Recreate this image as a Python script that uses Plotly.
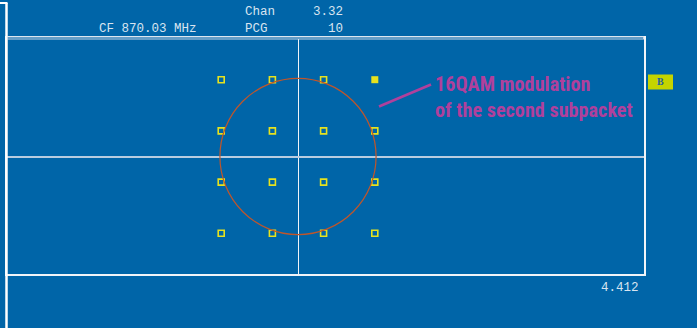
import plotly.graph_objects as go

# ---- data ----
i_open = [-3, -1, 1, -3, -1, 1, 3, -3, -1, 1, 3, -3, -1, 1, 3]
q_open = [3, 3, 3, 1, 1, 1, 1, -1, -1, -1, -1, -3, -3, -3, -3]
i_filled = [3]
q_filled = [3]
circle_radius = 3.05
header_labels = ["Chan", "PCG"]
header_values = ["3.32", "10"]
cf_label = "CF 870.03 MHz"
footer_value = "4.412"
note_text = "16QAM modulation<br>of the second subpacket"
marker_label = "B"

W, H = 697, 328
L, R, T, B = 7, 53, 38, 54
pw, ph = W - L - R, H - T - B

def px(x):
    return (x - L) / pw

def py(y):
    return (H - B - y) / ph

BG = "#0065A8"
TXT = "#D8E4F0"
YEL = "#E6E21E"
MAG = "#B0409C"

fig = go.Figure()
fig.add_trace(go.Scatter(x=i_open, y=q_open, mode="markers",
                         marker=dict(symbol="square-open", size=6, color=YEL,
                                     line=dict(width=1.6, color=YEL)),
                         hoverinfo="skip"))
fig.add_trace(go.Scatter(x=i_filled, y=q_filled, mode="markers",
                         marker=dict(symbol="square", size=7, color=YEL,
                                     line=dict(width=0)),
                         hoverinfo="skip"))

shapes = [
    dict(type="circle", xref="x", yref="y", x0=-circle_radius, x1=circle_radius,
         y0=-circle_radius, y1=circle_radius, line=dict(color="#C0562A", width=1.2)),
    # left bracket
    dict(type="line", xref="paper", yref="paper", x0=px(6.5), x1=px(6.5),
         y0=py(3), y1=py(330), line=dict(color="white", width=2.5)),
    dict(type="line", xref="paper", yref="paper", x0=px(0), x1=px(7.5),
         y0=py(3), y1=py(3), line=dict(color="white", width=2)),
    # split top border into a double line
    dict(type="line", xref="paper", yref="paper", x0=0, x1=1,
         y0=1, y1=1, line=dict(color="#C8D8E8", width=3)),
    dict(type="line", xref="paper", yref="paper", x0=px(8), x1=px(643),
         y0=1, y1=1, line=dict(color=BG, width=1)),
    # pointer line
    dict(type="line", xref="paper", yref="paper", x0=px(379), x1=px(431),
         y0=py(106.5), y1=py(84.5), line=dict(color=MAG, width=2.5)),
    # B marker box
    dict(type="rect", xref="paper", yref="paper", x0=px(648), x1=px(673),
         y0=py(74.5), y1=py(89.5), fillcolor="#C4D400", line=dict(width=0)),
]

mono = dict(family="Liberation Mono, DejaVu Sans Mono, monospace", size=12.5, color=TXT)
ann = [
    dict(text=header_labels[0], x=px(243), y=py(12), xanchor="left", yanchor="middle"),
    dict(text=header_values[0], x=px(345), y=py(12), xanchor="right", yanchor="middle"),
    dict(text=cf_label, x=px(97), y=py(28.5), xanchor="left", yanchor="middle"),
    dict(text=header_labels[1], x=px(243), y=py(28.5), xanchor="left", yanchor="middle"),
    dict(text=header_values[1], x=px(345), y=py(28.5), xanchor="right", yanchor="middle"),
    dict(text=footer_value, x=px(641), y=py(288), xanchor="right", yanchor="middle"),
]
annotations = []
for a in ann:
    a.update(xref="paper", yref="paper", showarrow=False, font=mono)
    annotations.append(a)

annotations.append(dict(text=note_text, xref="paper", yref="paper",
                        x=px(433), y=py(97), xanchor="left", yanchor="middle",
                        align="left", showarrow=False,
                        font=dict(family="Liberation Sans Narrow, Roboto Condensed, Arial Narrow, sans-serif",
                                  size=20.2, color=MAG, weight="bold")))
annotations.append(dict(text=marker_label, xref="paper", yref="paper",
                        x=px(660.5), y=py(82), xanchor="center", yanchor="middle",
                        showarrow=False,
                        font=dict(family="Liberation Serif, serif", size=10,
                                  color="#1F5FA0", weight="bold")))

xs = 25.6
xmin = -(298 - L) / xs
xmax = (W - R - 298) / xs
ys = 25.6
ymax = (156.5 - T) / ys
ymin = -((H - B) - 156.5) / ys

fig.update_layout(
    width=W, height=H, autosize=False,
    margin=dict(l=L, r=R, t=T, b=B, pad=0),
    paper_bgcolor=BG, plot_bgcolor=BG,
    showlegend=False,
    shapes=shapes, annotations=annotations,
    xaxis=dict(range=[xmin, xmax], showgrid=False, showticklabels=False, ticks="",
               zeroline=True, zerolinecolor="#F0F4F8", zerolinewidth=1,
               showline=True, mirror=True, linecolor="#F0F4F8", linewidth=2),
    yaxis=dict(range=[ymin, ymax], showgrid=False, showticklabels=False, ticks="",
               zeroline=True, zerolinecolor="#B8CCE0", zerolinewidth=1.5,
               showline=True, mirror=True, linecolor="#F0F4F8", linewidth=2),
)

fig.write_html("out.html")
